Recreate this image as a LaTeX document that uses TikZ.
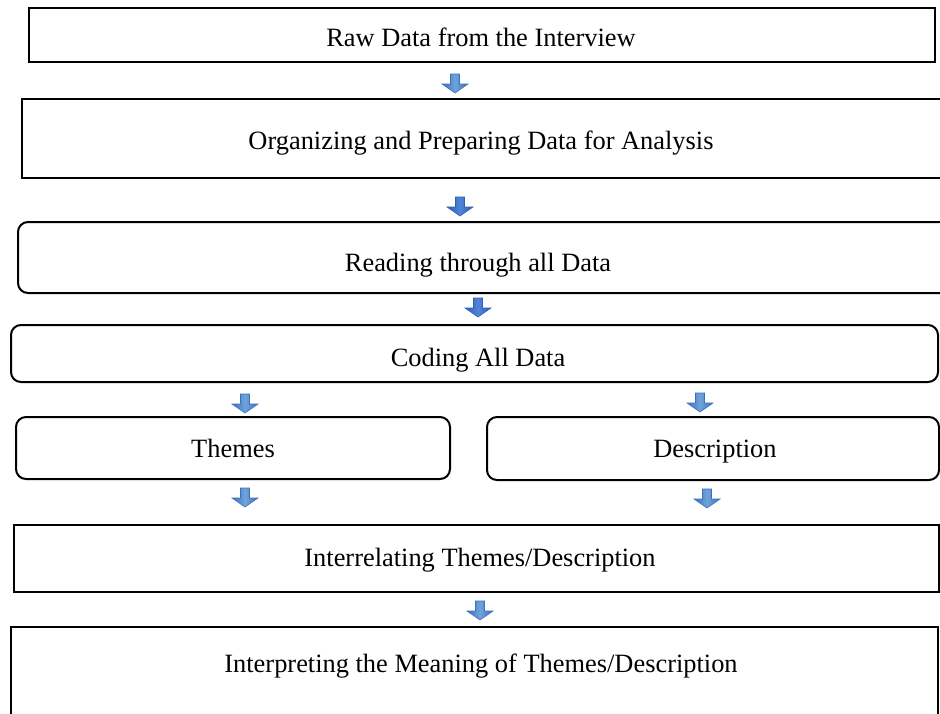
\documentclass[tikz,border=0pt]{standalone}
\usepackage{fontspec}
\setmainfont{Liberation Serif}
\usetikzlibrary{fit}
\definecolor{arrowedge}{HTML}{3E70B8}
\definecolor{arrowmid}{HTML}{6FA3DC}
\definecolor{arrowdark}{HTML}{2F5FB3}
\definecolor{arrowdarkmid}{HTML}{4F85D6}
\tikzset{
  boxsq/.style={draw=black, line width=1pt, inner sep=0pt},
  boxrd/.style={boxsq, rounded corners=5pt},
  lbl/.style={font=\fontsize{13.2}{15}\selectfont, inner sep=0pt,
              text height=9pt, text depth=3pt},
  arrowbody/.style={left color=arrowedge, right color=arrowedge, middle color=arrowmid,
                    draw=arrowedge, line width=0.3pt},
  arrowbodydark/.style={left color=arrowdark, right color=arrowdark, middle color=arrowdarkmid,
                    draw=arrowdark, line width=0.3pt},
  pics/flowarrow/.style={code={
    \path[arrowbody,#1] (-4.5,0) -- (4.5,0) -- (4.5,10) -- (13,10) -- (0,19)
                        -- (-13,10) -- (-4.5,10) -- cycle;}},
  pics/flowarrow/.default={}
}
\begin{document}
\begin{tikzpicture}[x=0.5pt, y=-0.5pt]
  \useasboundingbox (0,0) rectangle (940,713);
  \clip (0,0) rectangle (940,713);

  % boxes
  \node[boxsq, line width=1.2pt, fit={(29,8) (935,62)}] (b1) {};
  \node[boxsq, fit={(22,99) (960,178)}] (b2) {};
  \node[boxrd, fit={(18,222) (960,293)}] (b3) {};
  \node[boxrd, fit={(11,325) (938,382)}] (b4) {};
  \node[boxrd, fit={(16,417) (450,479)}] (b5) {};
  \node[boxrd, fit={(487,417) (939,480)}] (b6) {};
  \node[boxsq, fit={(14,525) (939,592)}] (b7) {};
  \node[boxsq, fit={(11,627) (938,760)}] (b8) {};

  % labels
  \node[lbl] (t1) at (481,40) {Raw Data from the Interview};
  \node[lbl] (t2) at (481,143) {Organizing and Preparing Data for Analysis};
  \node[lbl] (t3) at (478,265) {Reading through all Data};
  \node[lbl] (t4) at (478,360) {Coding All Data};
  \node[lbl] (t5) at (233,451) {Themes};
  \node[lbl] (t6) at (715,451) {Description};
  \node[lbl] (t7) at (480,560) {Interrelating Themes/Description};
  \node[lbl] (t8) at (481,666) {Interpreting the Meaning of Themes/Description};

  % block arrows between the stages
  \pic (a1) at (455,74) {flowarrow};
  \pic (a2) at (460,197) {flowarrow=arrowbodydark};
  \pic (a3) at (478,298) {flowarrow=arrowbodydark};
  \pic (a4l) at (245,394) {flowarrow};
  \pic (a4r) at (700,393) {flowarrow};
  \pic (a5l) at (245,488) {flowarrow};
  \pic (a5r) at (707,489) {flowarrow};
  \pic (a6) at (480,601) {flowarrow};
\end{tikzpicture}
\end{document}
